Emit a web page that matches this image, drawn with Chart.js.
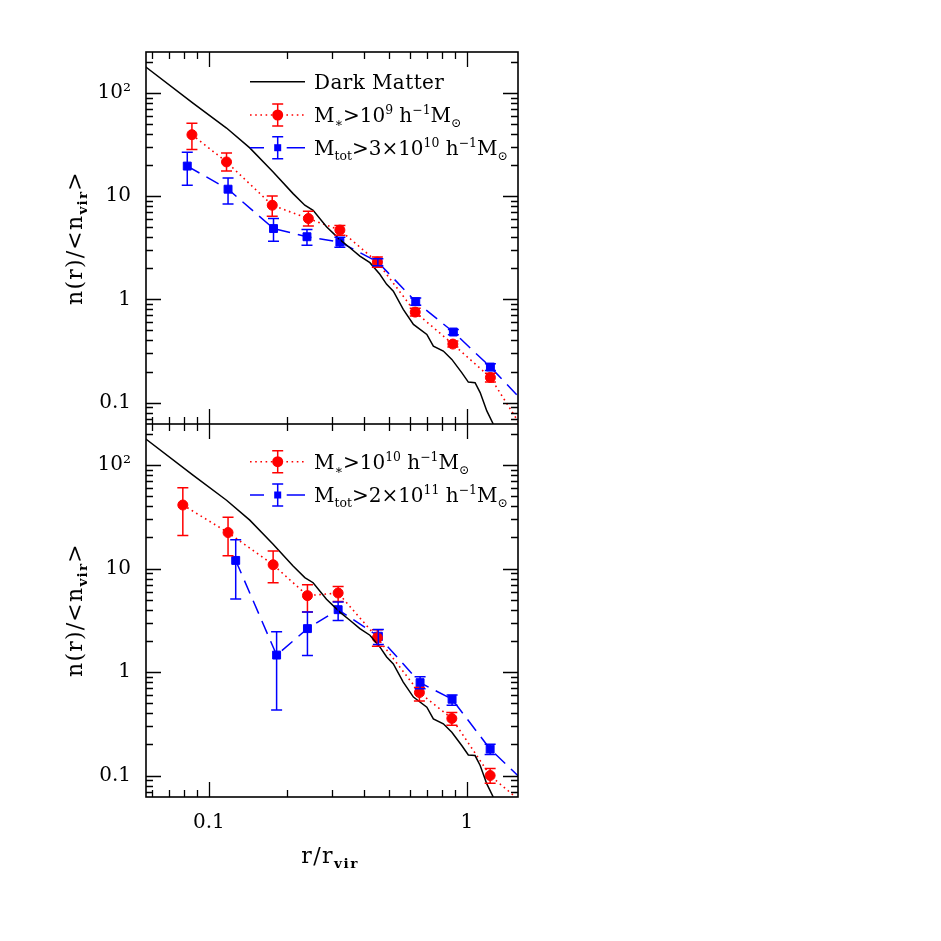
<!DOCTYPE html>
<html lang="en">
<head>
  <meta charset="UTF-8" />
  <title>n(r)/&lt;n_vir&gt; profiles</title>
  <script src="https://cdn.jsdelivr.net/npm/chart.js"></script>
  <style>
    body { margin: 0; background: #fff; font-family: 'DejaVu Serif', serif; color: #000; }
    #page { position: relative; width: 941px; height: 941px; overflow: hidden; background: #fff; }
    .panel { position: absolute; left: 0; width: 941px; }
    .lbl { position: absolute; font-size: 20px; line-height: 24px; white-space: nowrap; letter-spacing: 0.4px; }
    .lbl.m { letter-spacing: 0; }
    .lbl sub, .lbl sup { font-size: 62%; line-height: 0; }
    .lbl sub.b { font-weight: bold; }
    .ytitle { transform: translate(-50%, -50%) rotate(-90deg); font-size: 22px; letter-spacing: 1.2px; }
    .xtitle { transform: translate(-50%, -50%); font-size: 22px; letter-spacing: 1.5px; }
  </style>
</head>
<body>
  <div id="page">
    <div class="panel" style="top:0;height:424px"><canvas id="topChart"></canvas></div>
    <div class="panel" style="top:424px;height:517px"><canvas id="bottomChart"></canvas></div>

    <div class="lbl" style="left:314px;top:70px">Dark Matter</div>
    <div class="lbl m" style="left:314px;top:103px">M<sub>∗</sub>&gt;10<sup>9</sup> h<sup>−1</sup>M<sub>⊙</sub></div>
    <div class="lbl m" style="left:314px;top:136px">M<sub>tot</sub>&gt;3×10<sup>10</sup> h<sup>−1</sup>M<sub>⊙</sub></div>

    <div class="lbl m" style="left:314px;top:450px">M<sub>∗</sub>&gt;10<sup>10</sup> h<sup>−1</sup>M<sub>⊙</sub></div>
    <div class="lbl m" style="left:314px;top:483px">M<sub>tot</sub>&gt;2×10<sup>11</sup> h<sup>−1</sup>M<sub>⊙</sub></div>

    <div class="lbl ytitle" style="left:75px;top:238px">n(r)/&lt;n<sub class="b">vir</sub>&gt;</div>
    <div class="lbl ytitle" style="left:75px;top:610px">n(r)/&lt;n<sub class="b">vir</sub>&gt;</div>
    <div class="lbl xtitle" style="left:330px;top:856px">r/r<sub class="b">vir</sub></div>
  </div>

  <script>
    // axis ranges and tick labels
    const xRange = [0.057, 1.58];
    const yRange = [0.062, 250];
    const xTickVals = [0.1, 1];
    const xTickLabels = ['0.1', '1'];
    const yTickVals = [0.1, 1, 10, 100];
    const yTickLabels = ['0.1', '1', '10', '10²'];

    // dark matter profile (same in both panels)
    const dmR = [0.0566, 0.0867, 0.117, 0.144, 0.1774, 0.212, 0.2354, 0.2535, 0.2857, 0.322, 0.352, 0.385, 0.421,
                 0.46, 0.489, 0.519, 0.567, 0.621, 0.70, 0.742, 0.811, 0.875, 0.956, 1.014, 1.077, 1.127, 1.196, 1.262, 1.30];
    const dmN = [181, 80, 45.8, 29.4, 17.2, 10.6, 8.19, 7.31, 5.05, 3.80, 3.17, 2.63, 2.27,
                 1.75, 1.40, 1.20, 0.80, 0.573, 0.458, 0.353, 0.316, 0.262, 0.195, 0.158, 0.156, 0.125, 0.083, 0.063, 0.05];

    // top panel: M* > 1e9
    const topRedR  = [0.0859, 0.117, 0.176, 0.243, 0.322, 0.45, 0.631, 0.883, 1.235, 1.76];
    const topRedN  = [39.5, 21.5, 8.18, 6.08, 4.70, 2.30, 0.753, 0.369, 0.175, 0.043];
    const topRedLo = [28.3, 17.6, 6.4, 5.16, 4.19, 2.05, 0.69, 0.345, 0.158];
    const topRedHi = [51, 26.2, 10.07, 7.16, 5.2, 2.57, 0.82, 0.395, 0.192];

    // top panel: Mtot > 3e10
    const topBlueR  = [0.0824, 0.1186, 0.178, 0.240, 0.322, 0.452, 0.634, 0.887, 1.235, 1.76];
    const topBlueN  = [19.6, 11.7, 4.86, 4.05, 3.59, 2.30, 0.95, 0.483, 0.221, 0.087];
    const topBlueLo = [12.8, 8.4, 3.67, 3.35, 3.2, 2.12, 0.88, 0.455, 0.205];
    const topBlueHi = [26.7, 15.0, 6.08, 4.76, 4.0, 2.48, 1.03, 0.51, 0.238];

    // bottom panel: M* > 1e10
    const botRedR  = [0.0792, 0.1186, 0.1774, 0.241, 0.317, 0.45, 0.655, 0.875, 1.232, 1.76];
    const botRedN  = [41.2, 22.3, 10.9, 5.48, 5.81, 2.14, 0.634, 0.356, 0.10, 0.047];
    const botRedLo = [20.9, 13.3, 7.3, 3.81, 4.82, 1.78, 0.526, 0.307, 0.084];
    const botRedHi = [60.5, 31.4, 14.8, 6.98, 6.72, 2.57, 0.708, 0.407, 0.117];

    // bottom panel: Mtot > 2e11
    const botBlueR  = [0.127, 0.183, 0.241, 0.317, 0.454, 0.659, 0.877, 1.232, 1.76];
    const botBlueN  = [12.0, 1.46, 2.63, 4.01, 2.22, 0.79, 0.546, 0.18, 0.077];
    const botBlueLo = [5.08, 0.431, 1.45, 3.15, 1.85, 0.69, 0.478, 0.160];
    const botBlueHi = [19.0, 2.45, 3.81, 4.76, 2.58, 0.90, 0.60, 0.201];

    const RED = '#ff0000', BLUE = '#0000ff';
    const pts = (xs, ys) => xs.map((x, i) => ({ x, y: ys[i] }));

    function dmSet() {
      return { data: pts(dmR, dmN), showLine: true, borderColor: '#000', borderWidth: 1.5, pointRadius: 0 };
    }
    function redSet(r, n, lo, hi) {
      return { data: pts(r, n), errLo: lo, errHi: hi, showLine: true, borderColor: RED, borderWidth: 1.6,
               borderDash: [1.6, 3.6], pointStyle: 'circle', pointRadius: 5, pointBorderWidth: 1,
               pointBackgroundColor: RED, pointBorderColor: RED };
    }
    function blueSet(r, n, lo, hi) {
      return { data: pts(r, n), errLo: lo, errHi: hi, showLine: true, borderColor: BLUE, borderWidth: 1.5,
               borderDash: [14, 8], pointStyle: 'rect', pointRadius: 5.6, pointBorderWidth: 1,
               pointBackgroundColor: BLUE, pointBorderColor: BLUE };
    }

    // error bars drawn through the chart's own scales
    const errorBars = {
      id: 'errorBars',
      afterDatasetsDraw(chart) {
        const { ctx, chartArea: a, scales: { x, y } } = chart;
        ctx.save();
        ctx.beginPath(); ctx.rect(a.left, a.top, a.right - a.left, a.bottom - a.top); ctx.clip();
        chart.data.datasets.forEach(ds => {
          if (!ds.errLo) return;
          ctx.strokeStyle = ds.borderColor;
          ctx.lineWidth = 1.5;
          ctx.setLineDash([]);
          ds.data.forEach((p, i) => {
            if (ds.errLo[i] == null) return;
            const px = x.getPixelForValue(p.x);
            const y1 = y.getPixelForValue(ds.errLo[i]);
            const y2 = y.getPixelForValue(ds.errHi[i]);
            ctx.beginPath();
            ctx.moveTo(px, y1); ctx.lineTo(px, y2);
            ctx.moveTo(px - 5.5, y1); ctx.lineTo(px + 5.5, y1);
            ctx.moveTo(px - 5.5, y2); ctx.lineTo(px + 5.5, y2);
            ctx.stroke();
          });
        });
        ctx.restore();
      }
    };

    // box frame with inward major/minor ticks on all four sides
    const frameTicks = {
      id: 'frameTicks',
      afterDraw(chart) {
        const { ctx, chartArea: a, scales: { x, y } } = chart;
        ctx.save();
        ctx.strokeStyle = '#000';
        ctx.lineWidth = 1.3;
        ctx.beginPath();
        for (let k = -2; k <= 2; k++) {
          for (let m = 1; m <= 9; m++) {
            const v = m * Math.pow(10, k);
            const len = m === 1 ? 15 : 7;
            if (v > xRange[0] && v < xRange[1]) {
              const px = Math.round(x.getPixelForValue(v)) + 0.5;
              ctx.moveTo(px, a.top); ctx.lineTo(px, a.top + len);
              ctx.moveTo(px, a.bottom); ctx.lineTo(px, a.bottom - len);
            }
            if (v > yRange[0] && v < yRange[1]) {
              const py = Math.round(y.getPixelForValue(v)) + 0.5;
              ctx.moveTo(a.left, py); ctx.lineTo(a.left + len, py);
              ctx.moveTo(a.right, py); ctx.lineTo(a.right - len, py);
            }
          }
        }
        ctx.stroke();
        ctx.lineWidth = 1.6;
        ctx.strokeRect(a.left, a.top, a.right - a.left, a.bottom - a.top);
        ctx.restore();
      }
    };

    // legend symbol samples (text sits in the page as html)
    const legendSamples = {
      id: 'legendSamples',
      afterDraw(chart, args, opts) {
        const { ctx } = chart;
        const x0 = 250, x1 = 305, xm = 277.7;
        ctx.save();
        opts.rows.forEach(r => {
          ctx.lineWidth = 1.5;
          if (r.kind === 'dm') {
            ctx.strokeStyle = '#000'; ctx.setLineDash([]);
            ctx.beginPath(); ctx.moveTo(x0, r.y); ctx.lineTo(x1, r.y); ctx.stroke();
            return;
          }
          const col = r.kind === 'red' ? RED : BLUE;
          ctx.strokeStyle = col; ctx.fillStyle = col;
          if (r.kind === 'red') {
            ctx.setLineDash([1.6, 3.6]);
            ctx.beginPath(); ctx.moveTo(x0, r.y); ctx.lineTo(x1, r.y); ctx.stroke();
          } else {
            ctx.setLineDash([]);
            ctx.beginPath();
            ctx.moveTo(x0, r.y); ctx.lineTo(x0 + 14, r.y);
            ctx.moveTo(xm + 9, r.y); ctx.lineTo(x1, r.y);
            ctx.stroke();
          }
          ctx.setLineDash([]);
          ctx.beginPath();
          ctx.moveTo(xm, r.y - 11); ctx.lineTo(xm, r.y + 11);
          ctx.moveTo(xm - 5.5, r.y - 11); ctx.lineTo(xm + 5.5, r.y - 11);
          ctx.moveTo(xm - 5.5, r.y + 11); ctx.lineTo(xm + 5.5, r.y + 11);
          ctx.stroke();
          if (r.kind === 'red') {
            ctx.beginPath(); ctx.arc(xm, r.y, 5.5, 0, Math.PI * 2); ctx.fill();
          } else {
            ctx.fillRect(xm - 3.5, r.y - 3.5, 7, 7);
          }
        });
        ctx.restore();
      }
    };

    const tickFont = { family: 'DejaVu Serif', size: 20 };

    function makeChart(id, datasets, showX, legendRows) {
      return new Chart(document.getElementById(id), {
        type: 'scatter',
        data: { datasets },
        options: {
          responsive: true,
          maintainAspectRatio: false,
          animation: false,
          layout: { autoPadding: false, padding: { left: 0, right: 423, top: showX ? 0 : 52, bottom: 0 } },
          plugins: { legend: { display: false }, tooltip: { enabled: false }, legendSamples: { rows: legendRows } },
          scales: {
            x: {
              type: 'logarithmic', min: xRange[0], max: xRange[1], display: showX,
              grid: { display: false, drawTicks: false }, border: { display: false },
              afterBuildTicks: s => { s.ticks = xTickVals.map(v => ({ value: v })); },
              afterFit: s => {
                s.height = showX ? 144 : 0;
                s.paddingLeft = 0; s.paddingRight = 0;
              },
              ticks: {
                autoSkip: false, maxRotation: 0, padding: 14, color: '#000', font: tickFont,
                callback: v => xTickLabels[xTickVals.findIndex(t => Math.abs(t - v) < 1e-9)]
              }
            },
            y: {
              type: 'logarithmic', min: yRange[0], max: yRange[1],
              grid: { display: false, drawTicks: false }, border: { display: false },
              afterBuildTicks: s => { s.ticks = yTickVals.map(v => ({ value: v })); },
              afterFit: s => {
                s.width = 146;
                s.paddingTop = 0; s.paddingBottom = 0;
              },
              ticks: {
                autoSkip: false, padding: 15, color: '#000', font: tickFont,
                callback: v => yTickLabels[yTickVals.findIndex(t => Math.abs(t - v) < 1e-9)]
              }
            }
          }
        },
        plugins: [errorBars, frameTicks, legendSamples]
      });
    }

    makeChart('topChart', [
      dmSet(),
      redSet(topRedR, topRedN, topRedLo, topRedHi),
      blueSet(topBlueR, topBlueN, topBlueLo, topBlueHi)
    ], false, [{ kind: 'dm', y: 81.7 }, { kind: 'red', y: 115 }, { kind: 'blue', y: 147.7 }]);

    makeChart('bottomChart', [
      dmSet(),
      redSet(botRedR, botRedN, botRedLo, botRedHi),
      blueSet(botBlueR, botBlueN, botBlueLo, botBlueHi)
    ], true, [{ kind: 'red', y: 37.7 }, { kind: 'blue', y: 71 }]);
  </script>
</body>
</html>
